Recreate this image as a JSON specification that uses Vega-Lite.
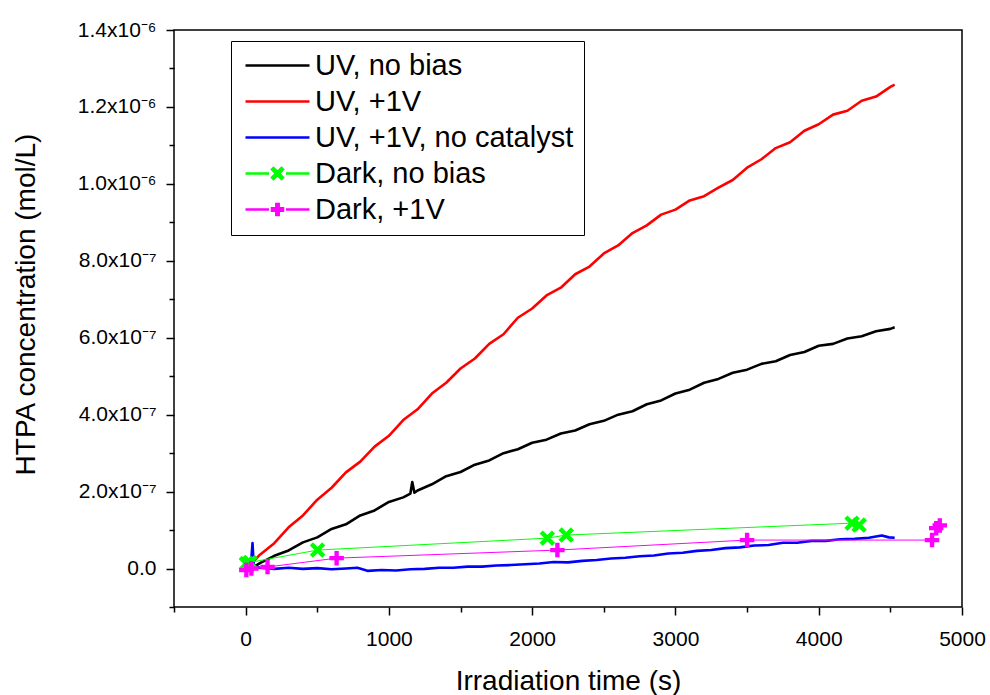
{
  "$schema": "https://vega.github.io/schema/vega-lite/v6.json",
  "width": 788,
  "height": 577,
  "autosize": {"type": "none"},
  "padding": {"left": 174, "top": 30, "right": 28, "bottom": 88},
  "background": "white",
  "config": {
    "font": "Liberation Sans, Arial, sans-serif",
    "view": {"stroke": "black", "strokeWidth": 1.5},
    "axis": {"domain": false, "grid": false, "tickColor": "black", "tickWidth": 1.5, "labelColor": "black", "titleColor": "black", "labelFont": "Liberation Sans, Arial, sans-serif", "titleFont": "Liberation Sans, Arial, sans-serif", "titleFontWeight": "normal"},
    "legend": {"labelFont": "Liberation Sans, Arial, sans-serif"}
  },
  "data": {"values": [
    {"series": "UV, no bias", "t": 40, "c": 0.0},
    {"series": "UV, no bias", "t": 100, "c": 0.14e-7},
    {"series": "UV, no bias", "t": 200, "c": 0.33e-7},
    {"series": "UV, no bias", "t": 300, "c": 0.47e-7},
    {"series": "UV, no bias", "t": 400, "c": 0.68e-7},
    {"series": "UV, no bias", "t": 500, "c": 0.81e-7},
    {"series": "UV, no bias", "t": 600, "c": 1.03e-7},
    {"series": "UV, no bias", "t": 700, "c": 1.15e-7},
    {"series": "UV, no bias", "t": 800, "c": 1.38e-7},
    {"series": "UV, no bias", "t": 900, "c": 1.51e-7},
    {"series": "UV, no bias", "t": 1000, "c": 1.73e-7},
    {"series": "UV, no bias", "t": 1100, "c": 1.85e-7},
    {"series": "UV, no bias", "t": 1150, "c": 1.95e-7},
    {"series": "UV, no bias", "t": 1163, "c": 2.25e-7},
    {"series": "UV, no bias", "t": 1178, "c": 1.97e-7},
    {"series": "UV, no bias", "t": 1200, "c": 2.03e-7},
    {"series": "UV, no bias", "t": 1300, "c": 2.19e-7},
    {"series": "UV, no bias", "t": 1400, "c": 2.40e-7},
    {"series": "UV, no bias", "t": 1500, "c": 2.51e-7},
    {"series": "UV, no bias", "t": 1600, "c": 2.70e-7},
    {"series": "UV, no bias", "t": 1700, "c": 2.81e-7},
    {"series": "UV, no bias", "t": 1800, "c": 3.00e-7},
    {"series": "UV, no bias", "t": 1900, "c": 3.10e-7},
    {"series": "UV, no bias", "t": 2000, "c": 3.27e-7},
    {"series": "UV, no bias", "t": 2100, "c": 3.35e-7},
    {"series": "UV, no bias", "t": 2200, "c": 3.51e-7},
    {"series": "UV, no bias", "t": 2300, "c": 3.59e-7},
    {"series": "UV, no bias", "t": 2400, "c": 3.75e-7},
    {"series": "UV, no bias", "t": 2500, "c": 3.84e-7},
    {"series": "UV, no bias", "t": 2600, "c": 4.00e-7},
    {"series": "UV, no bias", "t": 2700, "c": 4.09e-7},
    {"series": "UV, no bias", "t": 2800, "c": 4.27e-7},
    {"series": "UV, no bias", "t": 2900, "c": 4.37e-7},
    {"series": "UV, no bias", "t": 3000, "c": 4.55e-7},
    {"series": "UV, no bias", "t": 3100, "c": 4.65e-7},
    {"series": "UV, no bias", "t": 3200, "c": 4.83e-7},
    {"series": "UV, no bias", "t": 3300, "c": 4.93e-7},
    {"series": "UV, no bias", "t": 3400, "c": 5.09e-7},
    {"series": "UV, no bias", "t": 3500, "c": 5.17e-7},
    {"series": "UV, no bias", "t": 3600, "c": 5.32e-7},
    {"series": "UV, no bias", "t": 3700, "c": 5.39e-7},
    {"series": "UV, no bias", "t": 3800, "c": 5.55e-7},
    {"series": "UV, no bias", "t": 3900, "c": 5.63e-7},
    {"series": "UV, no bias", "t": 4000, "c": 5.79e-7},
    {"series": "UV, no bias", "t": 4100, "c": 5.84e-7},
    {"series": "UV, no bias", "t": 4200, "c": 5.98e-7},
    {"series": "UV, no bias", "t": 4300, "c": 6.04e-7},
    {"series": "UV, no bias", "t": 4400, "c": 6.17e-7},
    {"series": "UV, no bias", "t": 4500, "c": 6.23e-7},
    {"series": "UV, no bias", "t": 4530, "c": 6.27e-7},
    {"series": "UV, +1V", "t": 20, "c": 0.05e-7},
    {"series": "UV, +1V", "t": 100, "c": 0.36e-7},
    {"series": "UV, +1V", "t": 200, "c": 0.66e-7},
    {"series": "UV, +1V", "t": 300, "c": 1.07e-7},
    {"series": "UV, +1V", "t": 400, "c": 1.38e-7},
    {"series": "UV, +1V", "t": 500, "c": 1.79e-7},
    {"series": "UV, +1V", "t": 600, "c": 2.10e-7},
    {"series": "UV, +1V", "t": 700, "c": 2.50e-7},
    {"series": "UV, +1V", "t": 800, "c": 2.78e-7},
    {"series": "UV, +1V", "t": 900, "c": 3.17e-7},
    {"series": "UV, +1V", "t": 1000, "c": 3.45e-7},
    {"series": "UV, +1V", "t": 1100, "c": 3.86e-7},
    {"series": "UV, +1V", "t": 1200, "c": 4.14e-7},
    {"series": "UV, +1V", "t": 1300, "c": 4.55e-7},
    {"series": "UV, +1V", "t": 1400, "c": 4.83e-7},
    {"series": "UV, +1V", "t": 1500, "c": 5.20e-7},
    {"series": "UV, +1V", "t": 1600, "c": 5.46e-7},
    {"series": "UV, +1V", "t": 1700, "c": 5.84e-7},
    {"series": "UV, +1V", "t": 1800, "c": 6.09e-7},
    {"series": "UV, +1V", "t": 1900, "c": 6.52e-7},
    {"series": "UV, +1V", "t": 2000, "c": 6.76e-7},
    {"series": "UV, +1V", "t": 2100, "c": 7.10e-7},
    {"series": "UV, +1V", "t": 2200, "c": 7.30e-7},
    {"series": "UV, +1V", "t": 2300, "c": 7.65e-7},
    {"series": "UV, +1V", "t": 2400, "c": 7.85e-7},
    {"series": "UV, +1V", "t": 2500, "c": 8.19e-7},
    {"series": "UV, +1V", "t": 2600, "c": 8.40e-7},
    {"series": "UV, +1V", "t": 2700, "c": 8.72e-7},
    {"series": "UV, +1V", "t": 2800, "c": 8.92e-7},
    {"series": "UV, +1V", "t": 2900, "c": 9.20e-7},
    {"series": "UV, +1V", "t": 3000, "c": 9.33e-7},
    {"series": "UV, +1V", "t": 3100, "c": 9.57e-7},
    {"series": "UV, +1V", "t": 3200, "c": 9.68e-7},
    {"series": "UV, +1V", "t": 3300, "c": 9.90e-7},
    {"series": "UV, +1V", "t": 3400, "c": 10.10e-7},
    {"series": "UV, +1V", "t": 3500, "c": 10.42e-7},
    {"series": "UV, +1V", "t": 3600, "c": 10.64e-7},
    {"series": "UV, +1V", "t": 3700, "c": 10.93e-7},
    {"series": "UV, +1V", "t": 3800, "c": 11.08e-7},
    {"series": "UV, +1V", "t": 3900, "c": 11.38e-7},
    {"series": "UV, +1V", "t": 4000, "c": 11.55e-7},
    {"series": "UV, +1V", "t": 4100, "c": 11.80e-7},
    {"series": "UV, +1V", "t": 4200, "c": 11.90e-7},
    {"series": "UV, +1V", "t": 4300, "c": 12.16e-7},
    {"series": "UV, +1V", "t": 4400, "c": 12.27e-7},
    {"series": "UV, +1V", "t": 4500, "c": 12.52e-7},
    {"series": "UV, +1V", "t": 4530, "c": 12.58e-7},
    {"series": "UV, +1V, no catalyst", "t": 0, "c": 0.05e-7},
    {"series": "UV, +1V, no catalyst", "t": 25, "c": 0.10e-7},
    {"series": "UV, +1V, no catalyst", "t": 40, "c": 0.25e-7},
    {"series": "UV, +1V, no catalyst", "t": 48, "c": 0.66e-7},
    {"series": "UV, +1V, no catalyst", "t": 56, "c": 0.10e-7},
    {"series": "UV, +1V, no catalyst", "t": 75, "c": 0.04e-7},
    {"series": "UV, +1V, no catalyst", "t": 100, "c": 0.02e-7},
    {"series": "UV, +1V, no catalyst", "t": 200, "c": -0.01e-7},
    {"series": "UV, +1V, no catalyst", "t": 300, "c": 0.02e-7},
    {"series": "UV, +1V, no catalyst", "t": 400, "c": -0.01e-7},
    {"series": "UV, +1V, no catalyst", "t": 500, "c": 0.01e-7},
    {"series": "UV, +1V, no catalyst", "t": 600, "c": -0.02e-7},
    {"series": "UV, +1V, no catalyst", "t": 700, "c": 0.0},
    {"series": "UV, +1V, no catalyst", "t": 780, "c": 0.02e-7},
    {"series": "UV, +1V, no catalyst", "t": 850, "c": -0.06e-7},
    {"series": "UV, +1V, no catalyst", "t": 950, "c": -0.04e-7},
    {"series": "UV, +1V, no catalyst", "t": 1050, "c": -0.05e-7},
    {"series": "UV, +1V, no catalyst", "t": 1150, "c": -0.02e-7},
    {"series": "UV, +1V, no catalyst", "t": 1250, "c": -0.01e-7},
    {"series": "UV, +1V, no catalyst", "t": 1350, "c": 0.02e-7},
    {"series": "UV, +1V, no catalyst", "t": 1450, "c": 0.02e-7},
    {"series": "UV, +1V, no catalyst", "t": 1550, "c": 0.05e-7},
    {"series": "UV, +1V, no catalyst", "t": 1650, "c": 0.05e-7},
    {"series": "UV, +1V, no catalyst", "t": 1750, "c": 0.08e-7},
    {"series": "UV, +1V, no catalyst", "t": 1850, "c": 0.09e-7},
    {"series": "UV, +1V, no catalyst", "t": 1950, "c": 0.11e-7},
    {"series": "UV, +1V, no catalyst", "t": 2050, "c": 0.13e-7},
    {"series": "UV, +1V, no catalyst", "t": 2150, "c": 0.17e-7},
    {"series": "UV, +1V, no catalyst", "t": 2250, "c": 0.16e-7},
    {"series": "UV, +1V, no catalyst", "t": 2350, "c": 0.20e-7},
    {"series": "UV, +1V, no catalyst", "t": 2450, "c": 0.22e-7},
    {"series": "UV, +1V, no catalyst", "t": 2550, "c": 0.26e-7},
    {"series": "UV, +1V, no catalyst", "t": 2650, "c": 0.28e-7},
    {"series": "UV, +1V, no catalyst", "t": 2750, "c": 0.32e-7},
    {"series": "UV, +1V, no catalyst", "t": 2850, "c": 0.34e-7},
    {"series": "UV, +1V, no catalyst", "t": 2950, "c": 0.39e-7},
    {"series": "UV, +1V, no catalyst", "t": 3050, "c": 0.41e-7},
    {"series": "UV, +1V, no catalyst", "t": 3150, "c": 0.46e-7},
    {"series": "UV, +1V, no catalyst", "t": 3250, "c": 0.48e-7},
    {"series": "UV, +1V, no catalyst", "t": 3350, "c": 0.53e-7},
    {"series": "UV, +1V, no catalyst", "t": 3450, "c": 0.55e-7},
    {"series": "UV, +1V, no catalyst", "t": 3550, "c": 0.60e-7},
    {"series": "UV, +1V, no catalyst", "t": 3650, "c": 0.61e-7},
    {"series": "UV, +1V, no catalyst", "t": 3750, "c": 0.67e-7},
    {"series": "UV, +1V, no catalyst", "t": 3850, "c": 0.67e-7},
    {"series": "UV, +1V, no catalyst", "t": 3950, "c": 0.72e-7},
    {"series": "UV, +1V, no catalyst", "t": 4050, "c": 0.72e-7},
    {"series": "UV, +1V, no catalyst", "t": 4150, "c": 0.76e-7},
    {"series": "UV, +1V, no catalyst", "t": 4250, "c": 0.77e-7},
    {"series": "UV, +1V, no catalyst", "t": 4350, "c": 0.80e-7},
    {"series": "UV, +1V, no catalyst", "t": 4440, "c": 0.86e-7},
    {"series": "UV, +1V, no catalyst", "t": 4490, "c": 0.81e-7},
    {"series": "UV, +1V, no catalyst", "t": 4530, "c": 0.80e-7},
    {"series": "Dark, no bias", "t": 5, "c": 0.13e-7},
    {"series": "Dark, no bias", "t": 30, "c": 0.16e-7},
    {"series": "Dark, no bias", "t": 502, "c": 0.48e-7},
    {"series": "Dark, no bias", "t": 2106, "c": 0.79e-7},
    {"series": "Dark, no bias", "t": 2238, "c": 0.87e-7},
    {"series": "Dark, no bias", "t": 4233, "c": 1.18e-7},
    {"series": "Dark, no bias", "t": 4282, "c": 1.13e-7},
    {"series": "Dark, +1V", "t": 5, "c": -0.04e-7},
    {"series": "Dark, +1V", "t": 40, "c": 0.0},
    {"series": "Dark, +1V", "t": 153, "c": 0.04e-7},
    {"series": "Dark, +1V", "t": 635, "c": 0.27e-7},
    {"series": "Dark, +1V", "t": 2176, "c": 0.48e-7},
    {"series": "Dark, +1V", "t": 3500, "c": 0.74e-7},
    {"series": "Dark, +1V", "t": 4791, "c": 0.74e-7},
    {"series": "Dark, +1V", "t": 4820, "c": 1.05e-7},
    {"series": "Dark, +1V", "t": 4845, "c": 1.12e-7}
  ]},
  "resolve": {"axis": {"x": "independent", "y": "independent"}},
  "layer": [
    {
      "transform": [{"filter": {"field": "series", "oneOf": ["UV, no bias", "UV, +1V", "UV, +1V, no catalyst"]}}],
      "mark": {"type": "line", "strokeWidth": 2.6, "strokeJoin": "round"},
      "encoding": {
        "x": {"field": "t", "type": "quantitative", "scale": {"domain": [-500, 5000], "nice": false, "zero": false},
          "axis": {"orient": "bottom", "values": [0, 1000, 2000, 3000, 4000, 5000], "format": "d", "tickSize": 8, "labelFontSize": 21, "labelPadding": 13, "labelFlush": false, "labelOverlap": false, "title": "Irradiation time (s)", "titleFontSize": 28, "titleY": 82, "titleBaseline": "alphabetic"}},
        "y": {"field": "c", "type": "quantitative", "scale": {"domain": [-1e-7, 1.4e-6], "nice": false, "zero": false},
          "axis": {"orient": "left", "values": [0, 2e-7, 4e-7, 6e-7, 8e-7, 1e-6, 1.2e-6, 1.4e-6], "tickSize": 8, "labelFontSize": 21, "labelPadding": 10, "labelFlush": false, "labelOverlap": false,
            "labelExpr": "datum.value == 0 ? '0.0' : (datum.value < 9.5e-7 ? format(datum.value * 1e7, '.1f') + 'x10⁻⁷' : format(datum.value * 1e6, '.1f') + 'x10⁻⁶')",
            "title": "HTPA concentration (mol/L)", "titleFontSize": 28, "titleX": -148, "titleY": 274, "titleBaseline": "middle", "titleAngle": -90}},
        "color": {"field": "series", "type": "nominal",
          "scale": {"domain": ["UV, no bias", "UV, +1V", "UV, +1V, no catalyst", "Dark, no bias", "Dark, +1V"], "range": ["#000000", "#ff0000", "#0000ff", "#00ff00", "#ff00ff"]},
          "legend": {"orient": "none", "legendX": 57, "legendY": 11, "direction": "vertical", "title": null,
            "strokeColor": "black", "fillColor": "white", "padding": 10, "cornerRadius": 0,
            "labelFontSize": 29, "labelColor": "black", "labelLimit": 400, "labelOffset": 45, "symbolOffset": 0,
            "symbolSize": 400, "symbolStrokeWidth": 2.5, "rowPadding": 6}}
      }
    },
    {
      "transform": [{"filter": {"field": "series", "oneOf": ["Dark, no bias", "Dark, +1V"]}}],
      "mark": {"type": "line", "strokeWidth": 1},
      "encoding": {
        "x": {"field": "t", "type": "quantitative", "axis": {"orient": "bottom", "values": [-500, 500, 1500, 2500, 3500, 4500], "tickSize": 5, "labels": false, "title": null}},
        "y": {"field": "c", "type": "quantitative", "axis": {"orient": "left", "values": [-1e-7, 1e-7, 3e-7, 5e-7, 7e-7, 9e-7, 1.1e-6, 1.3e-6], "tickSize": 5, "labels": false, "title": null}},
        "color": {"field": "series", "type": "nominal"}
      }
    },
    {
      "transform": [{"filter": {"field": "series", "equal": "Dark, no bias"}}],
      "mark": {"type": "point", "filled": true, "opacity": 1, "size": 240, "strokeWidth": 0, "shape": "M0.6,-1L1,-0.6L0.4,0L1,0.6L0.6,1L0,0.4L-0.6,1L-1,0.6L-0.4,0L-1,-0.6L-0.6,-1L0,-0.4Z"},
      "encoding": {
        "x": {"field": "t", "type": "quantitative", "axis": null},
        "y": {"field": "c", "type": "quantitative", "axis": null},
        "color": {"field": "series", "type": "nominal"}
      }
    },
    {
      "transform": [{"filter": {"field": "series", "equal": "Dark, +1V"}}],
      "mark": {"type": "point", "filled": true, "opacity": 1, "size": 210, "strokeWidth": 0, "shape": "M-0.3,-1H0.3V-0.3H1V0.3H0.3V1H-0.3V0.3H-1V-0.3H-0.3Z"},
      "encoding": {
        "x": {"field": "t", "type": "quantitative", "axis": null},
        "y": {"field": "c", "type": "quantitative", "axis": null},
        "color": {"field": "series", "type": "nominal"}
      }
    },
    {
      "transform": [{"filter": "false"}],
      "mark": {"type": "point", "filled": true, "opacity": 1},
      "encoding": {
        "x": {"field": "t", "type": "quantitative", "axis": null},
        "y": {"field": "c", "type": "quantitative", "axis": null},
        "color": {"field": "series", "type": "nominal"},
        "shape": {"field": "series", "type": "nominal",
          "scale": {"domain": ["UV, no bias", "UV, +1V", "UV, +1V, no catalyst", "Dark, no bias", "Dark, +1V"],
            "range": ["M-1,0H5.4", "M-1,0H5.4", "M-1,0H5.4",
              "M-1,0H1.35M3.05,0H5.4M2.6,-0.55L2.75,-0.4L2.35,0L2.75,0.4L2.6,0.55L2.2,0.15L1.8,0.55L1.65,0.4L2.05,0L1.65,-0.4L1.8,-0.55L2.2,-0.15Z",
              "M-1,0H1.35M3.05,0H5.4M2.08,-0.55H2.32V-0.12H2.75V0.12H2.32V0.55H2.08V0.12H1.65V-0.12H2.08Z"]},
          "legend": {"orient": "none", "legendX": 57, "legendY": 11, "direction": "vertical", "title": null,
            "strokeColor": "black", "fillColor": "white", "padding": 10, "cornerRadius": 0,
            "labelFontSize": 29, "labelColor": "black", "labelLimit": 400, "labelOffset": 45, "symbolOffset": 0,
            "symbolSize": 400, "symbolStrokeWidth": 2.5, "rowPadding": 6}}
      }
    }
  ]
}
